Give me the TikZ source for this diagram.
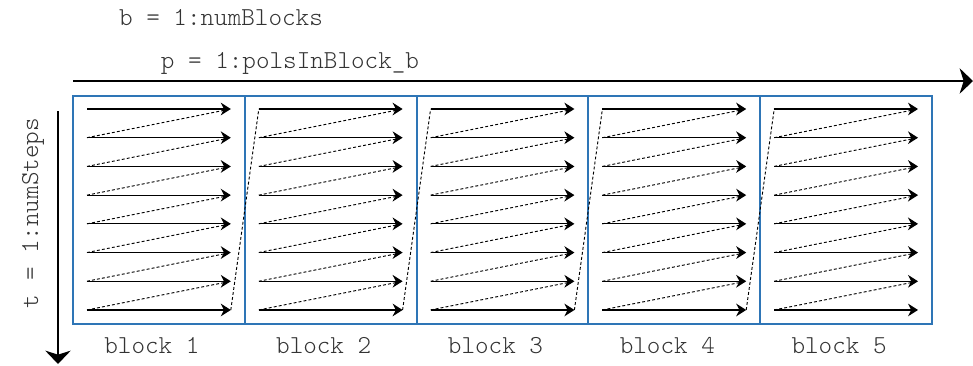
\documentclass[tikz,border=0pt]{standalone}
\usepackage{fontspec}
\setmonofont{Latin Modern Mono Light}
\usetikzlibrary{arrows.meta}
\definecolor{blockblue}{RGB}{46,117,182}
\begin{document}
\begin{tikzpicture}[x=0.75pt,y=-0.75pt,
  loop text/.style={font=\ttfamily\fontsize{19.4}{22}\selectfont, text=black!80, inner sep=0},
  blockbox/.style={draw=blockblue, line width=1.5pt, minimum width=128.85pt, minimum height=171pt, inner sep=0},
  step arrow/.style={-{Stealth[length=7.5pt,width=9.5pt,inset=2.4pt]}, line width=0.95pt},
  zigzag/.style={dash pattern=on 2.2pt off 1.6pt, line width=0.7pt},
  axis/.style={line width=2.2pt, -{Stealth[length=10pt,width=19pt,inset=3pt]}}]
\useasboundingbox (0,0) rectangle (973,365);

% loop headings
\node[loop text, anchor=base] (bloop) at (221,25) {b = 1:numBlocks};
\node[loop text, anchor=base] (ploop) at (290,68) {p = 1:polsInBlock\_b};
\node[loop text, anchor=base, rotate=90] (tloop) at (38,213) {t = 1:numSteps};

% axes
\coordinate (hstart) at (73,81);
\coordinate (hend) at (973,81);
\draw[axis] (hstart) -- (hend);
\coordinate (vstart) at (58,111);
\coordinate (vend) at (58,364);
\draw[axis, line width=1.6pt] (vstart) -- (vend);

% blocks with their step arrows
\foreach \b in {1,...,5} {
  \node[blockbox] (blk\b) at ({73+171.8*(\b-0.5)},209.5) {};
  \node[loop text, anchor=base] (lbl\b) at ({73+171.8*(\b-0.5)-7},353) {block \b};
  \foreach \r in {1,...,8} {
    \coordinate (s\b-\r) at ({73+171.8*(\b-1)+14},{109+28.71*(\r-1)});
    \coordinate (e\b-\r) at ({73+171.8*\b-14},{109+28.71*(\r-1)});
    \draw[step arrow] (s\b-\r) -- (e\b-\r);
  }
  % return path from each row end to the next row start
  \foreach \r in {1,...,7} {
    \pgfmathtruncatemacro{\nr}{\r+1}
    \draw[zigzag] (s\b-\nr) -- (e\b-\r);
  }
}

% jump from the last row of a block to the first row of the next
\foreach \b/\n in {1/2,2/3,3/4,4/5}
  \draw[zigzag] (e\b-8) -- (s\n-1);
\end{tikzpicture}
\end{document}
